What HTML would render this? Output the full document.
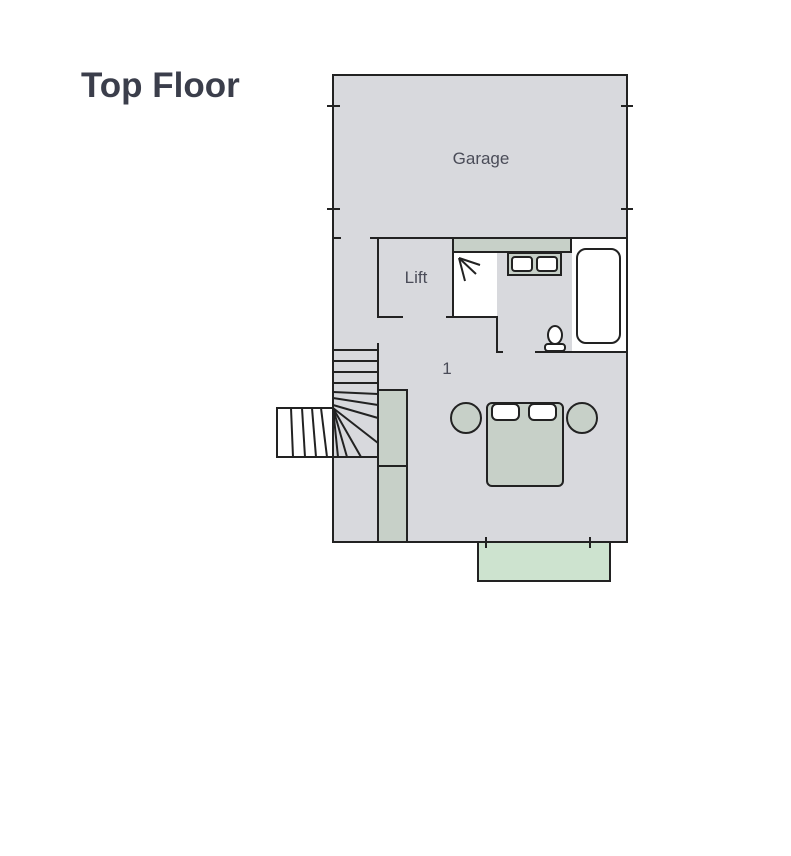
<!DOCTYPE html>
<html><head><style>body{margin:0;background:#fff}</style></head><body>
<svg width="791" height="856" viewBox="0 0 791 856" xmlns="http://www.w3.org/2000/svg" style="display:block">
<rect width="791" height="856" fill="#fff"/>
<text x="81" y="97" font-family="Liberation Sans, sans-serif" font-weight="bold" font-size="35" fill="#3b3e4b">Top Floor</text>
<g stroke="#222" stroke-width="2" fill="none">
<!-- balcony -->
<rect x="478" y="542" width="132" height="39" fill="#cde3cf"/>
<!-- stair extension -->
<rect x="277" y="408" width="56" height="49" fill="#fff"/>
<!-- main -->
<rect x="333" y="75" width="294" height="467" fill="#d8d9dd"/>
</g>
<!-- white areas -->
<rect x="454" y="252" width="43" height="65" fill="#fff"/>
<rect x="572" y="239" width="54" height="113" fill="#fff"/>
<g stroke="#222" stroke-width="2" fill="none">
<!-- garage ticks -->
<line x1="327" y1="106" x2="340" y2="106"/><line x1="327" y1="209" x2="340" y2="209"/>
<line x1="621" y1="106" x2="633" y2="106"/><line x1="621" y1="209" x2="633" y2="209"/>
<!-- garage wall -->
<line x1="333" y1="238" x2="341" y2="238"/><line x1="370" y1="238" x2="627" y2="238"/>
<!-- lift -->
<polyline points="378,238 378,317 403,317"/>
<!-- shower -->
<polyline points="453,238 453,317"/>
<polyline points="446,317 497,317 497,352 503,352"/>
<line x1="535" y1="352" x2="627" y2="352"/>
<!-- counter -->
<rect x="453" y="238" width="118" height="14" fill="#c7d0c8"/>
<!-- sink -->
<rect x="508" y="253" width="53" height="22" fill="#c7d0c8"/>
<rect x="512" y="257" width="20" height="14" rx="3" fill="#fff"/>
<rect x="537" y="257" width="20" height="14" rx="3" fill="#fff"/>
<!-- bath -->
<rect x="577" y="249" width="43" height="94" rx="9" fill="#fff"/>
<!-- toilet -->
<ellipse cx="555" cy="335" rx="7" ry="9" fill="#fff"/>
<rect x="545" y="344" width="20" height="7" rx="3" fill="#fff"/>
<!-- shower arrow -->
<line x1="459" y1="258" x2="480" y2="265"/><line x1="459" y1="258" x2="476" y2="274"/><line x1="459" y1="258" x2="465" y2="281"/>
<!-- stairs -->
<line x1="378" y1="343" x2="378" y2="542"/>
<line x1="333" y1="350" x2="378" y2="350"/><line x1="333" y1="361" x2="378" y2="361"/>
<line x1="333" y1="372" x2="378" y2="372"/><line x1="333" y1="383" x2="378" y2="383"/>
<line x1="333" y1="392" x2="378" y2="394"/><line x1="333" y1="398" x2="378" y2="405"/>
<line x1="333" y1="405" x2="378" y2="418"/><line x1="333" y1="408" x2="378" y2="443"/>
<line x1="333" y1="408" x2="361" y2="457"/><line x1="333" y1="408" x2="347" y2="457"/>
<line x1="333" y1="408" x2="338" y2="457"/><line x1="321" y1="408" x2="327" y2="457"/>
<line x1="312" y1="408" x2="316" y2="457"/><line x1="302" y1="408" x2="305" y2="457"/>
<line x1="291" y1="408" x2="293" y2="457"/><line x1="333" y1="457" x2="378" y2="457"/>
<!-- wardrobe -->
<rect x="378" y="390" width="29" height="152" fill="#c7d0c8"/>
<line x1="378" y1="466" x2="407" y2="466"/>
<!-- bed -->
<circle cx="466" cy="418" r="15" fill="#c7d0c8"/>
<circle cx="582" cy="418" r="15" fill="#c7d0c8"/>
<rect x="487" y="403" width="76" height="83" rx="5" fill="#c7d0c8"/>
<rect x="492" y="404" width="27" height="16" rx="5" fill="#fff"/>
<rect x="529" y="404" width="27" height="16" rx="5" fill="#fff"/>
<!-- balcony ticks -->
<line x1="486" y1="537" x2="486" y2="548"/><line x1="590" y1="537" x2="590" y2="548"/>
</g>
<g font-family="Liberation Sans, sans-serif" fill="#4a4c58" font-size="17">
<text x="481" y="164" text-anchor="middle">Garage</text>
<text x="416" y="283" text-anchor="middle">Lift</text>
<text x="447" y="374" text-anchor="middle">1</text>
</g>
</svg>
</body></html>
